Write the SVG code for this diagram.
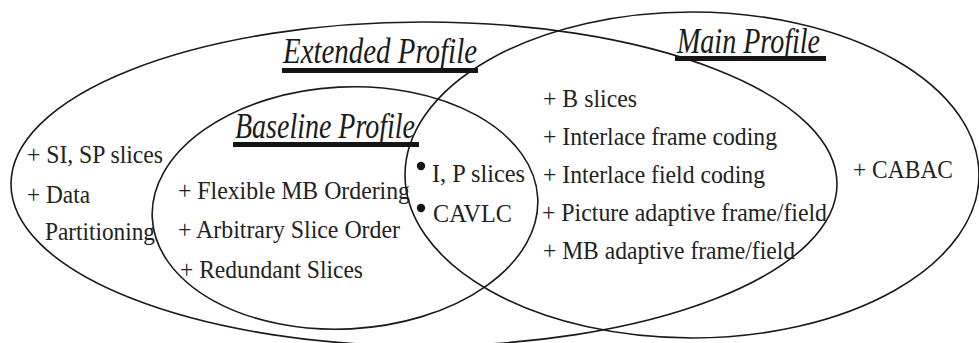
<svg xmlns="http://www.w3.org/2000/svg" width="979" height="343" viewBox="0 0 979 343">
  <style>
    .ring { fill: none; stroke: #1a1a1a; stroke-width: 1.6; }
    text { font-family: 'Liberation Serif', 'Noto Serif', 'DejaVu Serif', FreeSerif, 'Nimbus Roman', 'Nimbus Roman No9 L', Times, serif; }
    .item { font-size: 25px; fill: #222; }
    .title { font-style: italic; font-size: 35px; fill: #1a1a1a; }
    .bar { fill: #151515; }
    .dot { fill: #151515; }
  </style>
  <rect width="979" height="343" fill="#ffffff"/>

  <!-- Extended Profile set -->
  <g id="extended-profile">
    <ellipse class="ring" cx="424" cy="184" rx="413" ry="162"/>
    <text class="title" x="283" y="63" textLength="194" lengthAdjust="spacingAndGlyphs">Extended Profile</text>
    <rect class="bar" x="282" y="68" width="196" height="5"/>
    <text class="item" x="27" y="163" textLength="136" lengthAdjust="spacingAndGlyphs">+ SI, SP slices</text>
    <text class="item" x="27" y="203" textLength="63" lengthAdjust="spacingAndGlyphs">+ Data</text>
    <text class="item" x="45" y="240" textLength="110" lengthAdjust="spacingAndGlyphs">Partitioning</text>
  </g>

  <!-- Baseline Profile set -->
  <g id="baseline-profile">
    <ellipse class="ring" cx="345" cy="208" rx="193" ry="121" transform="rotate(-3 345 208)"/>
    <text class="title" x="235" y="138" textLength="180" lengthAdjust="spacingAndGlyphs">Baseline Profile</text>
    <rect class="bar" x="233" y="142" width="186" height="5"/>
    <text class="item" x="178" y="199" textLength="232" lengthAdjust="spacingAndGlyphs">+ Flexible MB Ordering</text>
    <text class="item" x="178" y="238" textLength="222" lengthAdjust="spacingAndGlyphs">+ Arbitrary Slice Order</text>
    <text class="item" x="180" y="278" textLength="183" lengthAdjust="spacingAndGlyphs">+ Redundant Slices</text>
  </g>

  <!-- Features shared by all three profiles -->
  <g id="common-core">
    <circle class="dot" cx="421" cy="166" r="4.2"/>
    <text class="item" x="432" y="182" textLength="93" lengthAdjust="spacingAndGlyphs">I, P slices</text>
    <circle class="dot" cx="421" cy="208" r="4.2"/>
    <text class="item" x="433" y="222" textLength="79" lengthAdjust="spacingAndGlyphs">CAVLC</text>
  </g>

  <!-- Main Profile set -->
  <g id="main-profile">
    <ellipse class="ring" cx="692" cy="175" rx="287" ry="163"/>
    <text class="title" x="677" y="53" textLength="143" lengthAdjust="spacingAndGlyphs">Main Profile</text>
    <rect class="bar" x="675" y="56" width="151" height="5"/>
    <text class="item" x="543" y="107" textLength="94" lengthAdjust="spacingAndGlyphs">+ B slices</text>
    <text class="item" x="543" y="145" textLength="234" lengthAdjust="spacingAndGlyphs">+ Interlace frame coding</text>
    <text class="item" x="543" y="183" textLength="222" lengthAdjust="spacingAndGlyphs">+ Interlace field coding</text>
    <text class="item" x="542" y="221" textLength="285" lengthAdjust="spacingAndGlyphs">+ Picture adaptive frame/field</text>
    <text class="item" x="543" y="259" textLength="252" lengthAdjust="spacingAndGlyphs">+ MB adaptive frame/field</text>
    <text class="item" x="853" y="178" textLength="100" lengthAdjust="spacingAndGlyphs">+ CABAC</text>
  </g>
</svg>
